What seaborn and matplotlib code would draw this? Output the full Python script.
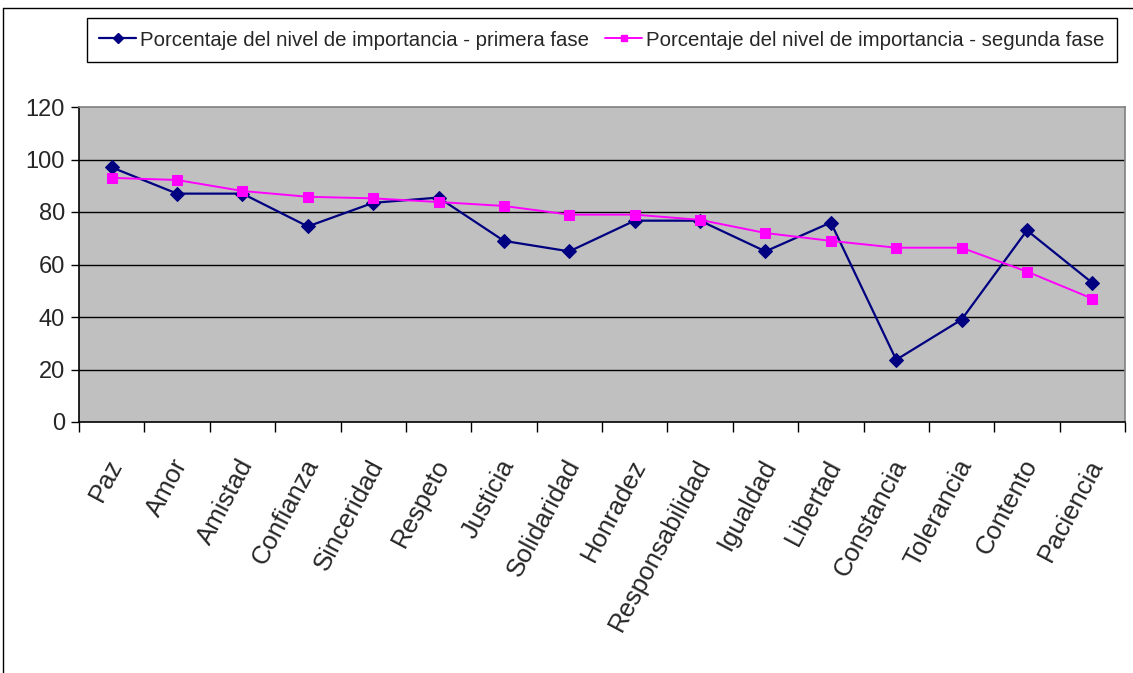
import matplotlib
matplotlib.use("Agg")
import matplotlib.pyplot as plt
from matplotlib.lines import Line2D
from matplotlib import transforms
import numpy as np
import pandas as pd
import seaborn as sns

# Values and their labels
categorias = ["Paz", "Amor", "Amistad", "Confianza", "Sinceridad", "Respeto",
              "Justicia", "Solidaridad", "Honradez", "Responsabilidad", "Igualdad",
              "Libertad", "Constancia", "Tolerancia", "Contento", "Paciencia"]
primera_fase = [97, 87, 87, 74.5, 83.5, 85.5, 69, 65, 76.7, 76.7, 65, 76,
                23.7, 39, 73, 53]
segunda_fase = [93, 92.2, 88, 85.8, 85.2, 83.8, 82.3, 79, 79, 77, 72, 69,
                66.4, 66.4, 57.3, 47]
serie_1 = "Porcentaje del nivel de importancia - primera fase"
serie_2 = "Porcentaje del nivel de importancia - segunda fase"
yticks = [0, 20, 40, 60, 80, 100, 120]

sns.set_theme(style="white")
plt.rcParams["font.family"] = ["Liberation Sans", "DejaVu Sans"]

df1 = pd.DataFrame({"cat": categorias, "val": primera_fase})
df2 = pd.DataFrame({"cat": categorias, "val": segunda_fase})

fig = plt.figure(figsize=(11.33, 6.73), dpi=100)
ax = fig.add_axes([79 / 1133, 1 - 422 / 673, (1125 - 79) / 1133, (422 - 107) / 673])
ax.set_facecolor("#C0C0C0")

sns.lineplot(data=df1, x="cat", y="val", ax=ax, color="#000080", linewidth=1.6,
             marker="D", markersize=7, markeredgecolor="#000080", sort=False,
             label=serie_1)
sns.lineplot(data=df2, x="cat", y="val", ax=ax, color="#FF00FF", linewidth=1.4,
             marker="s", markersize=7, markeredgecolor="#FF00FF", sort=False,
             label=serie_2)

ax.set_xlim(-0.5, len(categorias) - 0.5)
ax.set_ylim(0, 120)
ax.set_xlabel("")
ax.set_ylabel("")

# Horizontal gridlines
for v in yticks[1:-1]:
    ax.axhline(v, color="black", linewidth=1.0, zorder=0.5)

# Axis ticks: y outward, x ticks on category boundaries
ax.set_yticks(yticks)
ax.set_yticklabels([str(v) for v in yticks], fontsize=17)
ax.tick_params(axis="y", direction="out", length=6, width=1, color="black",
               left=True, pad=4)
ax.set_xticks(np.arange(len(categorias)))
ax.set_xticklabels(categorias, rotation=62, ha="right", va="center",
                   rotation_mode="anchor", fontsize=18.5)
ax.tick_params(axis="x", which="major", length=0, pad=28)
ax.set_xticks(np.arange(-0.5, len(categorias)), minor=True)
ax.tick_params(axis="x", which="minor", direction="out", length=7, width=1,
               color="black", bottom=True)
shift = transforms.ScaledTranslation(5 / 100, 0, fig.dpi_scale_trans)
for lbl in ax.get_xticklabels():
    lbl.set_transform(lbl.get_transform() + shift)

for side, sp in ax.spines.items():
    sp.set_visible(True)
    sp.set_color("#808080")
    sp.set_linewidth(1.2)
ax.spines["left"].set_color("black")
ax.spines["bottom"].set_color("black")

# Legend box across the top
ax.get_legend().remove()
handles = [Line2D([], [], color="#000080", marker="D", markersize=5, linewidth=1.6),
           Line2D([], [], color="#FF00FF", marker="s", markersize=5, linewidth=1.4)]
leg = fig.legend(handles, [serie_1, serie_2], ncol=2, loc="center",
                 bbox_to_anchor=((80 + 1124) / 2 / 1133, 1 - 40 / 673),
                 frameon=True, fancybox=False, edgecolor="black", framealpha=1,
                 prop={"size": 14.7}, handlelength=1.8,
                 handletextpad=0.2, columnspacing=0.8, borderpad=0.6,
                 borderaxespad=0)
leg.get_frame().set_linewidth(1.0)

# Outer chart frame (top and left edges)
fig.add_artist(Line2D([3 / 1133, 3 / 1133], [0, 1 - 8 / 673], color="black",
                      linewidth=1, transform=fig.transFigure))
fig.add_artist(Line2D([3 / 1133, 1], [1 - 8 / 673, 1 - 8 / 673], color="black",
                      linewidth=1, transform=fig.transFigure))

fig.savefig("out.png", dpi=100, facecolor="white")
